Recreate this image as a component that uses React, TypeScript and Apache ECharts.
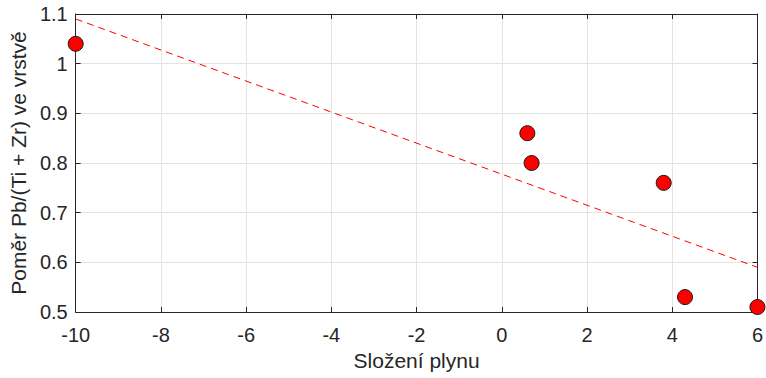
import React, { useEffect, useRef } from "react";
import * as echarts from "echarts";

const gasComposition = [-10, 0.6, 0.7, 3.8, 4.3, 6];
const ratioValues = [1.04, 0.86, 0.8, 0.76, 0.53, 0.51];
const trendX = [-10, 6];
const trendY = [1.09, 0.59];

const axisColor = "#262626";
const fontFamily = "'Liberation Sans', Arial, Helvetica, sans-serif";

export default function App() {
  const ref = useRef<HTMLDivElement>(null);
  useEffect(() => {
    if (!ref.current) return;
    const chart = echarts.init(ref.current, undefined, { renderer: "svg" });
    const points = gasComposition.map((x, i) => [x, ratioValues[i]]);
    const trend = trendX.map((x, i) => [x, trendY[i]]);
    const labelStyle = { color: axisColor, fontSize: 20, fontFamily };
    chart.setOption({
      animation: false,
      backgroundColor: "#ffffff",
      grid: { left: 75, right: 7, top: 14, bottom: 66 },
      xAxis: [
        {
          type: "value",
          min: -10,
          max: 6,
          interval: 2,
          name: "Složení plynu",
          nameLocation: "middle",
          nameGap: 37,
          nameTextStyle: { color: axisColor, fontSize: 21, fontFamily },
          axisLine: { onZero: false, lineStyle: { color: axisColor, width: 1 } },
          axisTick: { inside: true, length: 5, lineStyle: { color: axisColor } },
          axisLabel: { ...labelStyle, margin: 13 },
          splitLine: { show: true, lineStyle: { color: "#e4e4e4", width: 1 } },
        },
        {
          type: "value",
          position: "top",
          min: -10,
          max: 6,
          interval: 2,
          axisLine: { show: true, onZero: false, lineStyle: { color: axisColor, width: 1 } },
          axisTick: { show: true, inside: true, length: 5, lineStyle: { color: axisColor } },
          axisLabel: { show: false },
          splitLine: { show: false },
        },
      ],
      yAxis: [
        {
          type: "value",
          min: 0.5,
          max: 1.1,
          interval: 0.1,
          name: "Poměr Pb/(Ti + Zr) ve vrstvě",
          nameLocation: "middle",
          nameGap: 42,
          nameTextStyle: { color: axisColor, fontSize: 21, fontFamily },
          axisLine: { show: true, onZero: false, lineStyle: { color: axisColor, width: 1 } },
          axisTick: { show: true, inside: true, length: 5, lineStyle: { color: axisColor } },
          axisLabel: {
            ...labelStyle,
            margin: 8,
            formatter: (v: number) => String(Math.round(v * 10) / 10),
          },
          splitLine: { show: true, lineStyle: { color: "#e4e4e4", width: 1 } },
        },
        {
          type: "value",
          position: "right",
          min: 0.5,
          max: 1.1,
          interval: 0.1,
          axisLine: { show: true, onZero: false, lineStyle: { color: axisColor, width: 1 } },
          axisTick: { show: true, inside: true, length: 5, lineStyle: { color: axisColor } },
          axisLabel: { show: false },
          splitLine: { show: false },
        },
      ],
      series: [
        {
          type: "line",
          data: trend,
          symbol: "none",
          lineStyle: { color: "#ff0000", width: 1, type: [7, 5] },
          z: 3,
        },
        {
          type: "scatter",
          data: points,
          symbol: "circle",
          symbolSize: 15,
          clip: false,
          itemStyle: { color: "#ff0000", borderColor: "#1a1a1a", borderWidth: 1, opacity: 1 },
          z: 4,
        },
      ],
    });
    return () => chart.dispose();
  }, []);
  return (
    <div
      ref={ref}
      style={{ position: "absolute", left: 0, top: 0, width: 766, height: 378 }}
    />
  );
}
